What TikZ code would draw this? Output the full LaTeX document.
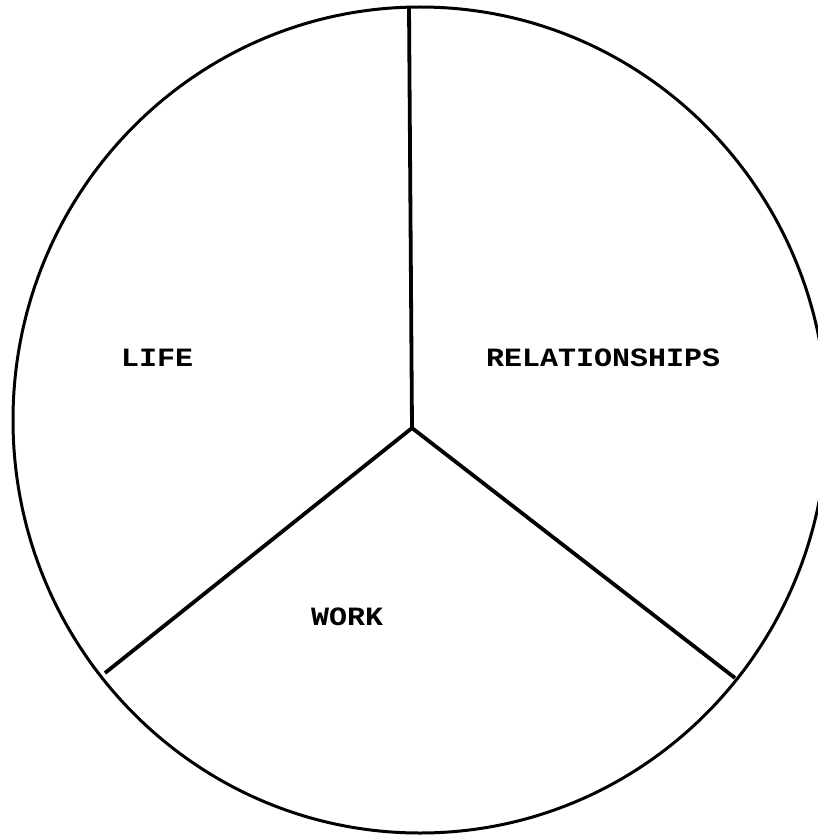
\documentclass[tikz,border=0pt]{standalone}
\usepackage{fontspec}
\newfontfamily\typew{Liberation Mono}
\begin{document}
\begin{tikzpicture}[x=1pt,y=-1pt,
  rim/.style={line width=3pt},
  spoke/.style={line width=3.8pt},
  label/.style={anchor=base west,inner sep=0pt,font=\typew\bfseries\fontsize{30}{32}\selectfont}]
\useasboundingbox (0,0) rectangle (818,837);
\coordinate (c) at (420,420);
\draw[rim] (c) ellipse [x radius=407, y radius=413];
\coordinate (hub) at (412,428);
\coordinate (top) at (409,7);
\coordinate (ll) at (105,673);
\coordinate (lr) at (735,678);
\draw[spoke] (hub) -- (top);
\draw[spoke] (hub) -- (ll);
\draw[spoke] (hub) -- (lr);
\node[label] (life) at (121,366) {\scalebox{1}[0.88]{LIFE}};
\node[label] (rel) at (486,366) {\scalebox{1}[0.88]{RELATIONSHIPS}};
\node[label] (work) at (311,625) {\scalebox{1}[0.88]{WORK}};
\end{tikzpicture}
\end{document}
